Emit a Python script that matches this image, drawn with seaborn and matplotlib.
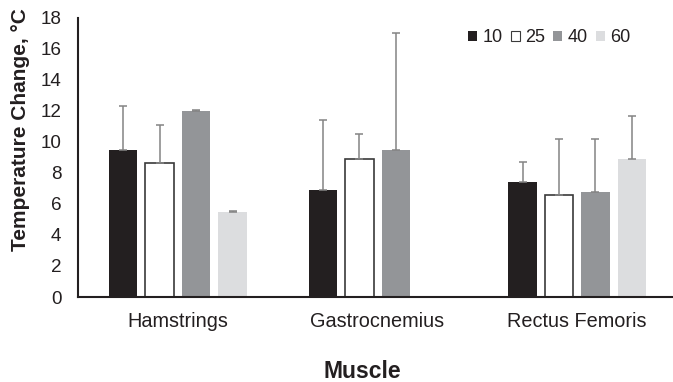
import matplotlib
matplotlib.use("Agg")
import matplotlib.pyplot as plt
from matplotlib.patches import Patch
import numpy as np
import pandas as pd
import seaborn as sns

muscles = ["Hamstrings", "Gastrocnemius", "Rectus Femoris"]
levels = ["10", "25", "40", "60"]

means_10 = [9.5, 6.9, 7.4]
err_10 = [2.8, 4.5, 1.3]
means_25 = [8.65, 8.9, 6.6]
err_25 = [2.45, 1.6, 3.6]
means_40 = [12.0, 9.5, 6.8]
err_40 = [0.06, 7.5, 3.4]
means_60 = [5.5, np.nan, 8.9]
err_60 = [0.06, np.nan, 2.8]

colors = {"10": "#231f20", "25": "#ffffff", "40": "#939598", "60": "#dcdddf"}

rows = []
for lvl, m, e in zip(levels, [means_10, means_25, means_40, means_60],
                     [err_10, err_25, err_40, err_60]):
    for mus, v, s in zip(muscles, m, e):
        rows.append({"muscle": mus, "level": lvl, "temp": v, "err": s})
df = pd.DataFrame(rows).dropna()
errs = {(r.muscle, r.level): r.err for r in df.itertuples()}

sns.set_style("white")
plt.rcParams["font.family"] = ["Liberation Sans", "DejaVu Sans"]

fig = plt.figure(figsize=(6.73, 3.82), dpi=100)
ax = fig.add_axes([0.116, 0.2225, 0.884, 0.7305])

sns.barplot(df, x="muscle", y="temp", hue="level", order=muscles, hue_order=levels,
            palette=colors, width=0.73, gap=0.22, errorbar=None, saturation=1,
            linewidth=0, legend=False, ax=ax)

for cont, lvl in zip(ax.containers, levels):
    for bar in cont:
        h = bar.get_height()
        if not np.isfinite(h):
            continue
        xc = bar.get_x() + bar.get_width() / 2
        mus = muscles[int(round(xc))]
        if lvl == "25":
            bar.set_edgecolor("#3a3a3a")
            bar.set_linewidth(1.2)
        e = errs[(mus, lvl)]
        ax.errorbar(xc, h, yerr=[[0], [e]], fmt="none", ecolor="#848484",
                    elinewidth=1.1, capsize=3, capthick=1.1, zorder=1)

ax.set_ylim(0, 18)
ax.set_xlim(-0.5, 2.48)
ax.set_yticks(range(0, 19, 2))
ax.tick_params(axis="both", length=0, colors="#231f20")
ax.tick_params(axis="y", labelsize=13.6, pad=12)
ax.tick_params(axis="x", labelsize=14.3, pad=11)
sns.despine(ax=ax)
for sp in ("left", "bottom"):
    ax.spines[sp].set_color("#231f20")
    ax.spines[sp].set_linewidth(1.5)

ax.set_xlabel("Muscle", fontsize=16.5, fontweight="bold", color="#231f20")
ax.set_ylabel("Temperature Change, °C", fontsize=15, fontweight="bold",
              color="#231f20")
ax.xaxis.set_label_coords(0.477, -0.290)
ax.xaxis.label.set_va("baseline")
ax.yaxis.set_label_coords(-0.096, 0.6)
ax.yaxis.label.set_va("center")

handles = [Patch(facecolor=colors[l], edgecolor="#3a3a3a" if l == "25" else colors[l],
                 linewidth=0.8 if l == "25" else 0, label=l) for l in levels]
fig.legend(handles=handles, ncol=4, frameon=False, loc="center left",
           bbox_to_anchor=(468 / 673, 1 - 38 / 382), borderpad=0, borderaxespad=0,
           fontsize=13, handlelength=0.5, handleheight=0.5, handletextpad=0.3,
           columnspacing=0.45, labelcolor="#231f20")

fig.savefig("out.png", dpi=100)
